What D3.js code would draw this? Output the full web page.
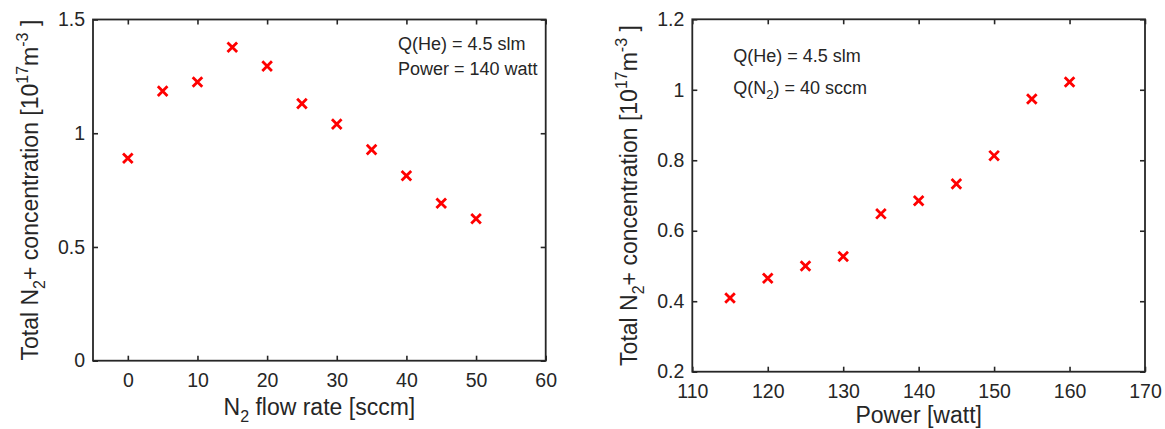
<!DOCTYPE html>
<html>
<head>
<meta charset="utf-8">
<script src="https://cdn.jsdelivr.net/npm/d3@7"></script>
<style>
  body { margin: 0; background: #fff; }
  svg { display: block; font-family: "Liberation Sans", Arial, Helvetica, sans-serif; }
</style>
</head>
<body>
<svg id="chart" width="1165" height="429"></svg>
<script>
// left panel: N2 flow rate sweep
var flowRates = [0, 5, 10, 15, 20, 25, 30, 35, 40, 45, 50];
var flowConc = [0.89, 1.185, 1.225, 1.378, 1.295, 1.13, 1.04, 0.928, 0.813, 0.692, 0.624];
var flowXTicks = [0, 10, 20, 30, 40, 50, 60];
var flowYTicks = [0, 0.5, 1, 1.5];

// right panel: power sweep
var powers = [115, 120, 125, 130, 135, 140, 145, 150, 155, 160];
var powerConc = [0.409, 0.465, 0.5, 0.527, 0.648, 0.685, 0.733, 0.813, 0.974, 1.022];
var powerXTicks = [110, 120, 130, 140, 150, 160, 170];
var powerYTicks = [0.2, 0.4, 0.6, 0.8, 1, 1.2];

var axisColor = '#262626';
var svg = d3.select('#chart');

function drawPanel(cfg) {
    var x = d3.scaleLinear().domain(cfg.xDomain).range([cfg.left, cfg.right]);
    var y = d3.scaleLinear().domain(cfg.yDomain).range([cfg.bottom, cfg.top]);
    var g = svg.append('g');

    // ticks on all four sides, pointing inward
    var axes = [
        {a: d3.axisBottom(x).tickValues(cfg.xTicks), t: 'translate(0,' + cfg.bottom + ')', labels: true},
        {a: d3.axisTop(x).tickValues(cfg.xTicks), t: 'translate(0,' + cfg.top + ')', labels: false},
        {a: d3.axisLeft(y).tickValues(cfg.yTicks), t: 'translate(' + cfg.left + ',0)', labels: true},
        {a: d3.axisRight(y).tickValues(cfg.yTicks), t: 'translate(' + cfg.right + ',0)', labels: false}
    ];
    axes.forEach(function(d, i) {
        var ag = g.append('g')
            .attr('transform', d.t)
            .call(d.a.tickSizeInner(-5).tickSizeOuter(0).tickPadding(i < 2 ? 12.5 : 8).tickFormat(d3.format('')));
        ag.select('.domain').remove();
        ag.selectAll('.tick line').attr('stroke', axisColor).attr('stroke-width', 1.6);
        ag.selectAll('.tick text')
            .attr('fill', axisColor)
            .style('font-size', '19.5px')
            .style('display', d.labels ? null : 'none');
    });

    g.append('rect')
        .attr('x', cfg.left).attr('y', cfg.top)
        .attr('width', cfg.right - cfg.left).attr('height', cfg.bottom - cfg.top)
        .attr('fill', 'none').attr('stroke', axisColor).attr('stroke-width', 1.8);

    // x markers
    var s = 4.8;
    g.selectAll('.mark').data(cfg.xs).enter().append('path')
        .attr('class', 'mark')
        .attr('d', function(d, i) {
            var px = x(d), py = y(cfg.ys[i]);
            return 'M' + (px - s) + ',' + (py - s) + 'L' + (px + s) + ',' + (py + s) +
                   'M' + (px - s) + ',' + (py + s) + 'L' + (px + s) + ',' + (py - s);
        })
        .attr('stroke', '#ff0000').attr('stroke-width', 2.8).attr('fill', 'none');

    // x axis label
    var xl = g.append('text')
        .attr('x', (cfg.left + cfg.right) / 2).attr('y', cfg.bottom + cfg.xLabelOffset)
        .attr('text-anchor', 'middle').attr('fill', axisColor).style('font-size', '23px');
    cfg.xLabel(xl);

    // y axis label
    var cy = (cfg.top + cfg.bottom) / 2;
    var yl = g.append('text')
        .attr('transform', 'translate(' + (cfg.left - 55) + ',' + cy + ') rotate(-90)')
        .attr('text-anchor', 'middle').attr('fill', axisColor).style('font-size', '23px');
    yl.append('tspan').text('Total N');
    yl.append('tspan').attr('dy', 7).style('font-size', '16px').text('2');
    yl.append('tspan').attr('dy', -7).text('+ concentration [10');
    yl.append('tspan').attr('dy', -10).style('font-size', '16px').text('17');
    yl.append('tspan').attr('dy', 10).text('m');
    yl.append('tspan').attr('dy', -10).style('font-size', '16px').text('-3');
    yl.append('tspan').attr('dy', 10).text(' ]');

    // annotation lines
    cfg.notes.forEach(function(n) {
        var t = g.append('text')
            .attr('x', cfg.left + n.dx).attr('y', cfg.top + n.dy)
            .attr('fill', axisColor).style('font-size', '18px');
        n.build(t);
    });
}

drawPanel({
    left: 93, right: 545.7, top: 19.5, bottom: 360.7,
    xDomain: [-5, 60], yDomain: [0, 1.5],
    xTicks: flowXTicks, yTicks: flowYTicks,
    xs: flowRates, ys: flowConc,
    xLabelOffset: 54,
    xLabel: function(t) {
        t.append('tspan').text('N');
        t.append('tspan').attr('dy', 7).style('font-size', '16px').text('2');
        t.append('tspan').attr('dy', -7).text(' flow rate [sccm]');
    },
    notes: [
        {dx: 305, dy: 30, build: function(t) { t.text('Q(He) = 4.5 slm'); }},
        {dx: 305, dy: 55.5, build: function(t) { t.text('Power = 140 watt'); }}
    ]
});

drawPanel({
    left: 692.3, right: 1145, top: 19.3, bottom: 371.7,
    xDomain: [110, 170], yDomain: [0.2, 1.2],
    xTicks: powerXTicks, yTicks: powerYTicks,
    xs: powers, ys: powerConc,
    xLabelOffset: 51,
    xLabel: function(t) { t.text('Power [watt]'); },
    notes: [
        {dx: 41, dy: 42.4, build: function(t) { t.text('Q(He) = 4.5 slm'); }},
        {dx: 41, dy: 75, build: function(t) {
            t.append('tspan').text('Q(N');
            t.append('tspan').attr('dy', 5).style('font-size', '13px').text('2');
            t.append('tspan').attr('dy', -5).text(') = 40 sccm');
        }}
    ]
});
</script>
</body>
</html>
